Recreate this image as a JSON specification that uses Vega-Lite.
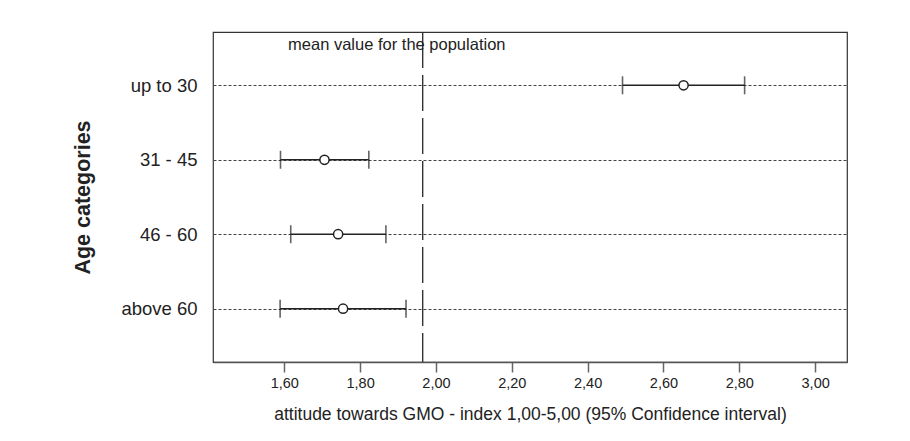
{
  "$schema": "https://vega.github.io/schema/vega-lite/v6.json",
  "autosize": "none",
  "width": 634,
  "height": 330,
  "padding": {"left": 213, "top": 32, "right": 63, "bottom": 79},
  "background": "white",
  "config": {
    "font": "Liberation Sans",
    "view": {"stroke": "#333", "strokeWidth": 1.2},
    "axisX": {
      "titleFontSize": 17.5, "titleFontWeight": "normal", "titleColor": "#222", "titlePadding": 16,
      "labelFontSize": 14.5, "labelColor": "#222", "labelPadding": 4,
      "tickSize": 10, "tickColor": "#666", "tickWidth": 1.5,
      "domainColor": "#555", "domainWidth": 1.5,
      "grid": false
    }
  },
  "datasets": {
    "ci": [
      {"age": "up to 30", "mean": 2.653, "lo": 2.492, "hi": 2.814},
      {"age": "31 - 45", "mean": 1.706, "lo": 1.590, "hi": 1.823},
      {"age": "46 - 60", "mean": 1.742, "lo": 1.617, "hi": 1.868},
      {"age": "above 60", "mean": 1.755, "lo": 1.589, "hi": 1.921}
    ],
    "pop": [{"v": 1.965, "age": "up to 30", "label": "mean value for the population", "tx": 1.61}]
  },
  "layer": [
    {
      "data": {"name": "ci"},
      "mark": {"type": "rule", "color": "#222", "strokeWidth": 1.5},
      "encoding": {
        "y": {
          "field": "age", "type": "nominal",
          "sort": ["up to 30", "31 - 45", "46 - 60", "above 60"],
          "scale": {"type": "point", "padding": 0.716},
          "axis": {
            "title": "Age categories",
            "titleFontSize": 21.5, "titleFontWeight": "bold", "titleColor": "#222",
            "titlePadding": 26,
            "labelFontSize": 18.5, "labelColor": "#222", "labelPadding": 16,
            "ticks": false, "domain": false,
            "grid": true, "gridDash": [3, 2], "gridColor": "#444", "gridWidth": 1
          }
        },
        "x": {
          "field": "lo", "type": "quantitative",
          "scale": {"domain": [1.412, 3.084], "nice": false, "zero": false},
          "axis": {
            "title": "attitude towards GMO - index 1,00-5,00 (95% Confidence interval)",
            "values": [1.6, 1.8, 2.0, 2.2, 2.4, 2.6, 2.8, 3.0],
            "labelExpr": "replace(format(datum.value, '.2f'), '.', ',')"
          }
        },
        "x2": {"field": "hi"}
      }
    },
    {
      "data": {"name": "ci"},
      "mark": {"type": "tick", "orient": "vertical", "color": "#222", "size": 18, "thickness": 1.6},
      "encoding": {
        "y": {"field": "age", "type": "nominal", "sort": ["up to 30", "31 - 45", "46 - 60", "above 60"]},
        "x": {"field": "lo", "type": "quantitative",
          "axis": {
            "title": "attitude towards GMO - index 1,00-5,00 (95% Confidence interval)",
            "values": [1.6, 1.8, 2.0, 2.2, 2.4, 2.6, 2.8, 3.0],
            "labelExpr": "replace(format(datum.value, '.2f'), '.', ',')"
          }}
      }
    },
    {
      "data": {"name": "ci"},
      "mark": {"type": "tick", "orient": "vertical", "color": "#222", "size": 18, "thickness": 1.6},
      "encoding": {
        "y": {"field": "age", "type": "nominal", "sort": ["up to 30", "31 - 45", "46 - 60", "above 60"]},
        "x": {"field": "hi", "type": "quantitative",
          "axis": {
            "title": "attitude towards GMO - index 1,00-5,00 (95% Confidence interval)",
            "values": [1.6, 1.8, 2.0, 2.2, 2.4, 2.6, 2.8, 3.0],
            "labelExpr": "replace(format(datum.value, '.2f'), '.', ',')"
          }}
      }
    },
    {
      "data": {"name": "ci"},
      "mark": {"type": "point", "shape": "circle", "filled": true, "fill": "white", "stroke": "#222", "strokeWidth": 1.5, "size": 85, "opacity": 1},
      "encoding": {
        "y": {"field": "age", "type": "nominal", "sort": ["up to 30", "31 - 45", "46 - 60", "above 60"]},
        "x": {"field": "mean", "type": "quantitative",
          "axis": {
            "title": "attitude towards GMO - index 1,00-5,00 (95% Confidence interval)",
            "values": [1.6, 1.8, 2.0, 2.2, 2.4, 2.6, 2.8, 3.0],
            "labelExpr": "replace(format(datum.value, '.2f'), '.', ',')"
          }}
      }
    },
    {
      "data": {"name": "pop"},
      "mark": {"type": "rule", "color": "#333", "strokeWidth": 1.4, "strokeDash": [36, 7]},
      "encoding": {
        "x": {"field": "v", "type": "quantitative",
          "axis": {
            "title": "attitude towards GMO - index 1,00-5,00 (95% Confidence interval)",
            "values": [1.6, 1.8, 2.0, 2.2, 2.4, 2.6, 2.8, 3.0],
            "labelExpr": "replace(format(datum.value, '.2f'), '.', ',')"
          }}
      }
    },
    {
      "data": {"name": "pop"},
      "mark": {"type": "text", "align": "left", "baseline": "middle", "dy": -40, "fontSize": 16.5, "color": "#222"},
      "encoding": {
        "y": {"field": "age", "type": "nominal", "sort": ["up to 30", "31 - 45", "46 - 60", "above 60"]},
        "x": {"field": "tx", "type": "quantitative",
          "axis": {
            "title": "attitude towards GMO - index 1,00-5,00 (95% Confidence interval)",
            "values": [1.6, 1.8, 2.0, 2.2, 2.4, 2.6, 2.8, 3.0],
            "labelExpr": "replace(format(datum.value, '.2f'), '.', ',')"
          }},
        "text": {"field": "label"}
      }
    }
  ]
}
